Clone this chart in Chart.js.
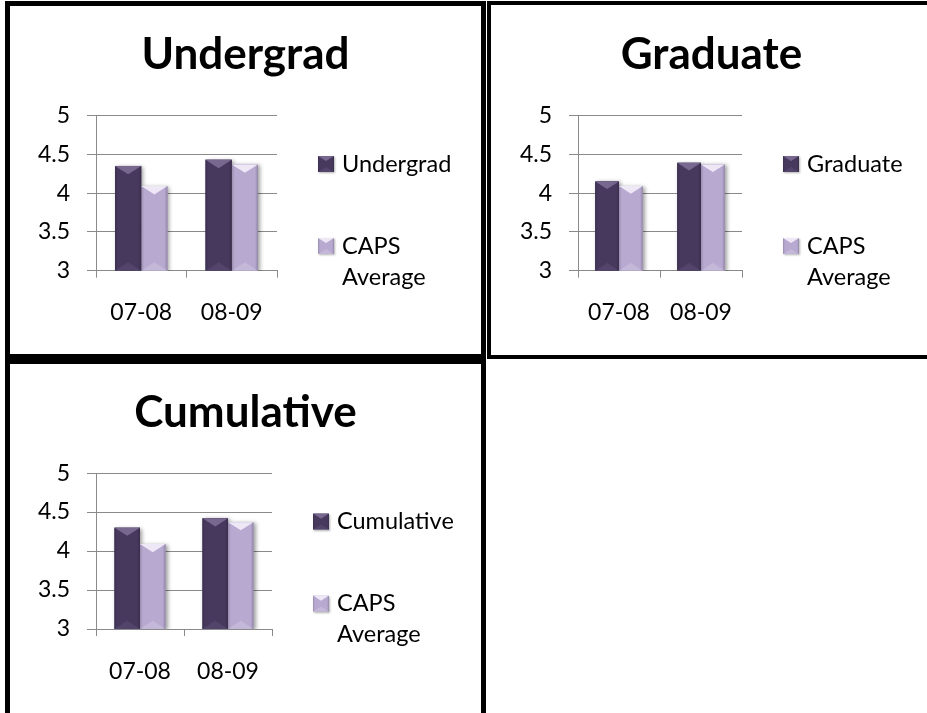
<!DOCTYPE html>
<html>
<head>
<meta charset="utf-8">
<script src="https://cdn.jsdelivr.net/npm/chart.js@4.4.1/dist/chart.umd.min.js"></script>
<style>
  html, body { margin: 0; padding: 0; background: #fff; }
  body { position: relative; width: 927px; height: 713px; overflow: hidden; }
  .panel { position: absolute; background: #fff; box-sizing: content-box; }
  .panel canvas { display: block; }
</style>
</head>
<body>
<div class="panel" style="left:5px;top:1px;width:471px;height:348px;border:5px solid #000;">
  <canvas id="chartUndergrad" width="471" height="348"></canvas>
</div>
<div class="panel" style="left:487px;top:1px;width:441px;height:350px;border:4px solid #000;">
  <canvas id="chartGraduate" width="441" height="350"></canvas>
</div>
<div class="panel" style="left:5px;top:359px;width:471px;height:349px;border:5px solid #000;">
  <canvas id="chartCumulative" width="471" height="349"></canvas>
</div>

<script>
// School years on the x axis
const categories = ['07-08', '08-09'];

// Mean scores per group
const undergrad  = [4.35, 4.43];
const graduate   = [4.15, 4.39];
const cumulative = [4.30, 4.42];
const capsAverage = [4.09, 4.37];

// Value axis ticks
const yTicks = [3, 3.5, 4, 4.5, 5];

// Legend text for the comparison series (two lines)
const capsLabel = ['CAPS', 'Average'];

const FONT = "Lato, 'Open Sans', sans-serif";
const GRID = '#8a8a8a';

const DARK  = { fill: '#47395e', top: '#78688f', bottom: 'rgba(140,120,170,0.18)' };
const LIGHT = { fill: '#b8a9d1', top: '#ede7f6', bottom: 'rgba(255,255,255,0.18)' };

// Soft bevel: lighter chevron on top, faint one at the foot, shaded sides
function drawBevel(ctx, left, top, w, h, tone, depth) {
  const b = Math.min(depth, w * 0.32, h / 2);
  const right = left + w, cx = left + w / 2, bottom = top + h;
  ctx.save();
  const g = ctx.createLinearGradient(left, 0, right, 0);
  g.addColorStop(0, 'rgba(0,0,0,0.16)');
  g.addColorStop(0.12, 'rgba(0,0,0,0)');
  g.addColorStop(0.88, 'rgba(0,0,0,0)');
  g.addColorStop(1, 'rgba(0,0,0,0.20)');
  ctx.fillStyle = g;
  ctx.fillRect(left, top, w, h);
  ctx.fillStyle = tone.top;
  ctx.beginPath();
  ctx.moveTo(left, top);
  ctx.lineTo(right, top);
  ctx.lineTo(cx, top + b);
  ctx.closePath();
  ctx.fill();
  ctx.fillStyle = tone.bottom;
  ctx.beginPath();
  ctx.moveTo(left, bottom);
  ctx.lineTo(right, bottom);
  ctx.lineTo(cx, bottom - b);
  ctx.closePath();
  ctx.fill();
  ctx.restore();
}

// Visible rectangle of a bar element, cut at the plot's floor
function barRect(chart, bar) {
  const p = bar.getProps(['x', 'y', 'base', 'width'], true);
  const bottom = Math.min(p.base, chart.chartArea.bottom);
  return { left: p.x - p.width / 2, top: p.y, w: p.width, h: bottom - p.y };
}

function eachBar(chart, fn) {
  const metas = chart.getSortedVisibleDatasetMetas().slice().reverse();
  metas.forEach(meta => {
    const tone = chart.data.datasets[meta.index].tone;
    meta.data.forEach(bar => fn(barRect(chart, bar), tone));
  });
}

const barBevel = {
  id: 'barBevel',
  beforeDatasetsDraw(chart) {
    const ctx = chart.ctx, a = chart.chartArea;
    ctx.save();
    ctx.beginPath();
    ctx.rect(a.left, a.top, a.right - a.left, a.bottom - a.top);
    ctx.clip();
    ctx.shadowColor = 'rgba(0,0,0,0.38)';
    ctx.shadowBlur = 4;
    ctx.shadowOffsetX = 2;
    ctx.shadowOffsetY = 1;
    eachBar(chart, (r, tone) => {
      ctx.fillStyle = tone.fill;
      ctx.fillRect(r.left, r.top, r.w, r.h);
    });
    ctx.restore();
  },
  afterDatasetsDraw(chart) {
    const ctx = chart.ctx, a = chart.chartArea;
    ctx.save();
    ctx.beginPath();
    ctx.rect(a.left, a.top, a.right - a.left, a.bottom - a.top);
    ctx.clip();
    eachBar(chart, (r, tone) => drawBevel(ctx, r.left, r.top, r.w, r.h, tone, 9));
    ctx.restore();
  }
};

// Legend to the right of the plot, rows placed from the plot's top edge
const sideLegend = {
  id: 'sideLegend',
  afterDraw(chart, args, opts) {
    const { ctx, chartArea } = chart;
    ctx.save();
    ctx.font = `${opts.fontSize}px ${FONT}`;
    ctx.textBaseline = 'middle';
    ctx.textAlign = 'left';
    chart.data.datasets.forEach((ds, i) => {
      const cy = chartArea.top + opts.rows[i];
      const bx = chartArea.right + opts.boxOffset;
      const s = opts.boxSize;
      ctx.save();
      ctx.shadowColor = 'rgba(0,0,0,0.3)';
      ctx.shadowBlur = 2;
      ctx.shadowOffsetX = 1;
      ctx.shadowOffsetY = 1;
      ctx.fillStyle = ds.tone.fill;
      ctx.fillRect(bx, cy - s / 2, s, s);
      ctx.restore();
      drawBevel(ctx, bx, cy - s / 2, s, s, ds.tone, 6);
      ctx.fillStyle = '#000';
      const lines = Array.isArray(ds.legendText) ? ds.legendText : [ds.legendText];
      lines.forEach((t, k) => {
        ctx.fillText(t, chartArea.right + opts.textOffset, cy + k * opts.lineGap);
      });
    });
    ctx.restore();
  }
};

function makeChart(id, title, label, values, L) {
  return new Chart(document.getElementById(id), {
    type: 'bar',
    data: {
      labels: categories,
      datasets: [
        { label: label, legendText: label, data: values, tone: DARK,
          backgroundColor: DARK.fill, categoryPercentage: 0.58, barPercentage: 1.0 },
        { label: capsLabel.join(' '), legendText: capsLabel, data: capsAverage, tone: LIGHT,
          backgroundColor: LIGHT.fill, categoryPercentage: 0.58, barPercentage: 1.0 }
      ]
    },
    options: {
      responsive: false,
      animation: false,
      events: [],
      layout: { padding: 0 },
      plugins: {
        legend: { display: false },
        tooltip: { enabled: false },
        title: {
          display: true,
          text: title,
          color: '#000',
          font: { family: FONT, size: 44, weight: 'bold', lineHeight: 1.2 },
          padding: { top: L.titleTop, bottom: L.titleBottom }
        },
        sideLegend: {
          fontSize: 23.5, boxSize: 16, boxOffset: 41, textOffset: 65,
          rows: [48.5, 130.5], lineGap: 31
        }
      },
      scales: {
        x: {
          offset: true,
          grid: { display: true, offset: true, drawOnChartArea: false, drawTicks: true,
                  tickLength: 7, color: GRID, lineWidth: 1 },
          border: { display: true, color: GRID, width: 1 },
          ticks: { color: '#000', padding: 21.5, maxRotation: 0,
                   font: { family: FONT, size: 23 } },
          afterFit(scale) { scale.height = L.xHeight; }
        },
        y: {
          min: yTicks[0],
          max: yTicks[yTicks.length - 1],
          grid: { color: GRID, lineWidth: 1, tickLength: 9, drawTicks: true },
          border: { display: true, color: GRID, width: 1 },
          ticks: { stepSize: yTicks[1] - yTicks[0], color: '#000', padding: 17,
                   font: { family: FONT, size: 23 },
                   callback: v => String(v) },
          afterFit(scale) { scale.width = L.yWidth; }
        },
        // empty band on the right that holds the legend
        legendBand: {
          type: 'linear',
          position: 'right',
          display: true,
          grid: { display: false, drawTicks: false },
          border: { display: false },
          ticks: { display: false },
          afterFit(scale) { scale.width = L.right; }
        }
      }
    },
    plugins: [barBevel, sideLegend]
  });
}

makeChart('chartUndergrad', 'Undergrad', 'Undergrad', undergrad,
  { right: 204, yWidth: 86, xHeight: 83.3, titleTop: 22.6, titleBottom: 34.1 });
makeChart('chartGraduate', 'Graduate', 'Graduate', graduate,
  { right: 190, yWidth: 87, xHeight: 84.3, titleTop: 23.6, titleBottom: 34.1 });
makeChart('chartCumulative', 'Cumulative', 'Cumulative', cumulative,
  { right: 209, yWidth: 86, xHeight: 84, titleTop: 22.6, titleBottom: 33.7 });
</script>
</body>
</html>
